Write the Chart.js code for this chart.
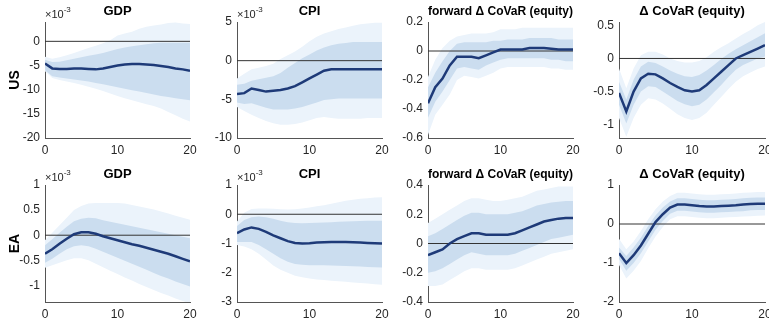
<!DOCTYPE html>
<html lang="en">
<head>
    <meta charset="UTF-8">
    <title>Impulse responses: US and EA</title>
    <script src="https://cdn.jsdelivr.net/npm/chart.js"></script>
    <style>
        body {
            margin: 0;
            padding: 0;
            background: #fff;
            width: 769px;
            height: 324px;
            position: relative;
            overflow: hidden;
        }
        .panel {
            position: absolute;
        }
    </style>
</head>
<body>
    <div id="grid"></div>
    <script>
        // horizontes (eje x)
        const horizons = [0,1,2,3,4,5,6,7,8,9,10,11,12,13,14,15,16,17,18,19,20];

        const panelTitles = ['GDP', 'CPI', 'forward \u0394 CoVaR (equity)', '\u0394 CoVaR (equity)'];
        const rowLabels = ['US', 'EA'];

        // US GDP (x10^-3)
        const usGdpMed     = [-4.6,-5.6,-5.7,-5.7,-5.6,-5.6,-5.7,-5.8,-5.6,-5.3,-5.0,-4.8,-4.7,-4.7,-4.8,-4.9,-5.1,-5.3,-5.6,-5.8,-6.1];
        const usGdpInnerHi = [-3.8,-4.3,-4.2,-3.9,-3.6,-3.3,-3.0,-2.7,-2.4,-2.0,-1.6,-1.3,-1.0,-0.8,-0.6,-0.4,-0.3,-0.3,-0.3,-0.3,-0.3];
        const usGdpInnerLo = [-6.0,-7.2,-7.5,-7.7,-7.9,-8.1,-8.3,-8.6,-8.9,-9.2,-9.5,-9.8,-10.1,-10.4,-10.7,-11.0,-11.3,-11.5,-11.8,-12.0,-12.2];
        const usGdpOuterHi = [-3.2,-3.6,-3.3,-2.9,-2.4,-1.9,-1.4,-0.9,-0.4,0.2,1.2,1.6,2.0,2.6,3.0,3.3,3.5,3.8,3.9,3.7,3.6];
        const usGdpOuterLo = [-6.2,-7.6,-8.0,-8.3,-8.6,-9.0,-9.4,-9.8,-10.3,-10.8,-11.3,-11.8,-12.2,-12.6,-13.0,-13.4,-13.9,-14.6,-15.3,-16.0,-16.6];

        // US CPI (x10^-3)
        const usCpiMed     = [-4.3,-4.2,-3.6,-3.8,-4.0,-3.9,-3.8,-3.6,-3.3,-2.8,-2.3,-1.8,-1.3,-1.1,-1.1,-1.1,-1.1,-1.1,-1.1,-1.1,-1.1];
        const usCpiInnerHi = [-3.1,-3.0,-2.6,-2.4,-2.2,-2.0,-1.6,-0.9,-0.3,0.3,0.8,1.3,1.7,2.0,2.2,2.3,2.4,2.4,2.4,2.4,2.4];
        const usCpiInnerLo = [-5.4,-5.6,-5.5,-5.8,-6.1,-6.3,-6.3,-6.3,-6.2,-6.0,-5.7,-5.4,-5.1,-5.0,-4.9,-4.9,-4.9,-4.9,-4.9,-4.9,-4.9];
        const usCpiOuterHi = [-2.3,-1.7,-1.1,-0.9,-0.7,-0.4,0.2,0.7,1.2,1.8,2.5,3.1,3.5,3.8,4.1,4.3,4.5,4.7,4.8,4.9,4.9];
        const usCpiOuterLo = [-6.0,-6.5,-7.0,-7.4,-7.8,-8.1,-8.3,-8.3,-8.2,-8.0,-7.7,-7.4,-7.3,-7.4,-7.5,-7.5,-7.5,-7.5,-7.4,-7.4,-7.4];

        // US forward delta CoVaR
        const usFwdMed     = [-0.36,-0.25,-0.19,-0.10,-0.04,-0.04,-0.04,-0.05,-0.03,-0.01,0.01,0.01,0.01,0.01,0.02,0.02,0.02,0.015,0.01,0.01,0.01];
        const usFwdInnerHi = [-0.25,-0.15,-0.07,0.00,0.05,0.06,0.06,0.06,0.06,0.07,0.07,0.08,0.08,0.08,0.09,0.09,0.09,0.09,0.08,0.08,0.08];
        const usFwdInnerLo = [-0.46,-0.35,-0.28,-0.20,-0.12,-0.11,-0.12,-0.13,-0.10,-0.08,-0.06,-0.05,-0.05,-0.05,-0.05,-0.05,-0.05,-0.06,-0.06,-0.07,-0.07];
        const usFwdOuterHi = [-0.18,-0.06,0.02,0.07,0.10,0.11,0.12,0.12,0.12,0.13,0.15,0.15,0.15,0.16,0.16,0.16,0.16,0.16,0.16,0.16,0.16];
        const usFwdOuterLo = [-0.58,-0.44,-0.37,-0.30,-0.20,-0.17,-0.18,-0.19,-0.17,-0.15,-0.12,-0.11,-0.11,-0.11,-0.11,-0.11,-0.11,-0.12,-0.12,-0.13,-0.13];

        // US delta CoVaR
        const usCovMed     = [-0.52,-0.80,-0.50,-0.30,-0.23,-0.24,-0.30,-0.37,-0.43,-0.48,-0.50,-0.48,-0.40,-0.30,-0.20,-0.10,0.00,0.05,0.10,0.15,0.20];
        const usCovInnerHi = [-0.35,-0.62,-0.32,-0.12,-0.05,-0.07,-0.12,-0.18,-0.23,-0.27,-0.28,-0.25,-0.18,-0.10,-0.01,0.07,0.14,0.20,0.26,0.32,0.38];
        const usCovInnerLo = [-0.70,-0.98,-0.70,-0.50,-0.42,-0.43,-0.50,-0.57,-0.64,-0.69,-0.72,-0.70,-0.62,-0.51,-0.40,-0.28,-0.17,-0.10,-0.05,0.00,0.03];
        const usCovOuterHi = [-0.15,-0.45,-0.15,0.05,0.10,0.10,0.06,0.00,-0.04,-0.06,-0.06,-0.04,0.02,0.10,0.17,0.23,0.30,0.37,0.43,0.50,0.55];
        const usCovOuterLo = [-0.90,-1.18,-0.90,-0.70,-0.60,-0.62,-0.68,-0.76,-0.84,-0.90,-0.93,-0.90,-0.82,-0.70,-0.58,-0.46,-0.35,-0.27,-0.21,-0.16,-0.12];

        // EA GDP (x10^-3)
        const eaGdpMed     = [-0.37,-0.28,-0.17,-0.07,0.02,0.06,0.06,0.03,-0.02,-0.06,-0.10,-0.14,-0.18,-0.21,-0.25,-0.29,-0.33,-0.37,-0.42,-0.47,-0.52];
        const eaGdpInnerHi = [-0.20,-0.08,0.05,0.17,0.28,0.33,0.35,0.34,0.30,0.27,0.24,0.21,0.18,0.15,0.12,0.09,0.06,0.03,0.00,-0.03,-0.06];
        const eaGdpInnerLo = [-0.55,-0.47,-0.37,-0.28,-0.22,-0.20,-0.22,-0.27,-0.33,-0.39,-0.45,-0.51,-0.57,-0.63,-0.69,-0.75,-0.81,-0.86,-0.92,-0.97,-1.02];
        const eaGdpOuterHi = [-0.10,0.05,0.20,0.35,0.50,0.58,0.63,0.64,0.64,0.64,0.64,0.63,0.60,0.57,0.54,0.51,0.47,0.43,0.39,0.35,0.31];
        const eaGdpOuterLo = [-0.65,-0.60,-0.55,-0.50,-0.46,-0.46,-0.50,-0.57,-0.64,-0.71,-0.77,-0.84,-0.90,-0.97,-1.03,-1.09,-1.15,-1.20,-1.26,-1.31,-1.36];

        // EA CPI (x10^-3)
        const eaCpiMed     = [-0.65,-0.52,-0.45,-0.50,-0.60,-0.72,-0.82,-0.92,-0.98,-1.00,-0.99,-0.97,-0.96,-0.95,-0.95,-0.95,-0.96,-0.97,-0.98,-0.99,-1.00];
        const eaCpiInnerHi = [-0.40,-0.20,-0.10,-0.08,-0.10,-0.15,-0.22,-0.27,-0.30,-0.31,-0.30,-0.29,-0.28,-0.27,-0.26,-0.25,-0.24,-0.23,-0.22,-0.22,-0.22];
        const eaCpiInnerLo = [-0.95,-0.95,-0.95,-1.05,-1.20,-1.35,-1.50,-1.62,-1.70,-1.73,-1.74,-1.74,-1.74,-1.75,-1.76,-1.77,-1.78,-1.79,-1.80,-1.81,-1.82];
        const eaCpiOuterHi = [-0.25,0.05,0.18,0.20,0.20,0.19,0.17,0.16,0.17,0.20,0.23,0.27,0.31,0.36,0.41,0.46,0.50,0.53,0.55,0.57,0.58];
        const eaCpiOuterLo = [-1.05,-1.10,-1.20,-1.35,-1.55,-1.75,-1.90,-2.00,-2.10,-2.15,-2.20,-2.23,-2.25,-2.27,-2.29,-2.31,-2.33,-2.35,-2.37,-2.39,-2.41];

        // EA forward delta CoVaR
        const eaFwdMed     = [-0.08,-0.06,-0.04,0.00,0.03,0.05,0.07,0.07,0.06,0.06,0.06,0.06,0.07,0.09,0.11,0.13,0.15,0.16,0.17,0.175,0.175];
        const eaFwdInnerHi = [0.05,0.07,0.10,0.13,0.16,0.19,0.21,0.21,0.20,0.20,0.20,0.20,0.21,0.22,0.24,0.26,0.27,0.28,0.285,0.29,0.29];
        const eaFwdInnerLo = [-0.20,-0.19,-0.17,-0.14,-0.11,-0.08,-0.06,-0.07,-0.08,-0.08,-0.08,-0.08,-0.07,-0.05,-0.03,-0.01,0.01,0.03,0.04,0.05,0.06];
        const eaFwdOuterHi = [0.14,0.17,0.20,0.23,0.26,0.29,0.31,0.31,0.30,0.29,0.29,0.30,0.31,0.32,0.34,0.36,0.37,0.38,0.39,0.39,0.39];
        const eaFwdOuterLo = [-0.29,-0.29,-0.28,-0.25,-0.22,-0.19,-0.17,-0.17,-0.18,-0.18,-0.18,-0.18,-0.17,-0.15,-0.13,-0.11,-0.09,-0.07,-0.06,-0.05,-0.04];

        // EA delta CoVaR
        const eaCovMed     = [-0.75,-1.00,-0.80,-0.55,-0.25,0.05,0.25,0.42,0.50,0.50,0.48,0.46,0.45,0.45,0.46,0.47,0.48,0.50,0.51,0.52,0.52];
        const eaCovInnerHi = [-0.60,-0.82,-0.60,-0.35,-0.05,0.22,0.42,0.58,0.66,0.66,0.64,0.62,0.61,0.61,0.62,0.63,0.64,0.66,0.67,0.68,0.68];
        const eaCovInnerLo = [-0.90,-1.20,-1.00,-0.75,-0.45,-0.15,0.08,0.26,0.34,0.34,0.32,0.30,0.29,0.29,0.30,0.31,0.32,0.33,0.35,0.36,0.36];
        const eaCovOuterHi = [-0.38,-0.65,-0.45,-0.18,0.12,0.38,0.58,0.72,0.80,0.80,0.78,0.76,0.75,0.75,0.76,0.77,0.78,0.80,0.81,0.82,0.82];
        const eaCovOuterLo = [-1.05,-1.40,-1.20,-0.95,-0.62,-0.32,-0.08,0.12,0.20,0.20,0.18,0.16,0.15,0.15,0.16,0.17,0.18,0.19,0.20,0.21,0.22];

        // ticks del eje y de cada panel
        const usGdpTicks = [0,-5,-10,-15,-20];
        const usCpiTicks = [5,0,-5,-10];
        const usFwdTicks = [0.2,0,-0.2,-0.4,-0.6];
        const usCovTicks = [0.5,0,-0.5,-1];
        const eaGdpTicks = [1,0.5,0,-0.5,-1];
        const eaCpiTicks = [1,0,-1,-2,-3];
        const eaFwdTicks = [0.4,0.2,0,-0.2,-0.4];
        const eaCovTicks = [1,0,-1,-2];
        const xTicks = [0,10,20];

        const panels = [
            {row:0,col:0,med:usGdpMed,ih:usGdpInnerHi,il:usGdpInnerLo,oh:usGdpOuterHi,ol:usGdpOuterLo,ticks:usGdpTicks,min:-20,max:4,exp:true},
            {row:0,col:1,med:usCpiMed,ih:usCpiInnerHi,il:usCpiInnerLo,oh:usCpiOuterHi,ol:usCpiOuterLo,ticks:usCpiTicks,min:-10,max:5,exp:true},
            {row:0,col:2,med:usFwdMed,ih:usFwdInnerHi,il:usFwdInnerLo,oh:usFwdOuterHi,ol:usFwdOuterLo,ticks:usFwdTicks,min:-0.6,max:0.2,exp:false},
            {row:0,col:3,med:usCovMed,ih:usCovInnerHi,il:usCovInnerLo,oh:usCovOuterHi,ol:usCovOuterLo,ticks:usCovTicks,min:-1.2,max:0.55,exp:false},
            {row:1,col:0,med:eaGdpMed,ih:eaGdpInnerHi,il:eaGdpInnerLo,oh:eaGdpOuterHi,ol:eaGdpOuterLo,ticks:eaGdpTicks,min:-1.33,max:1,exp:true},
            {row:1,col:1,med:eaCpiMed,ih:eaCpiInnerHi,il:eaCpiInnerLo,oh:eaCpiOuterHi,ol:eaCpiOuterLo,ticks:eaCpiTicks,min:-3,max:1,exp:true},
            {row:1,col:2,med:eaFwdMed,ih:eaFwdInnerHi,il:eaFwdInnerLo,oh:eaFwdOuterHi,ol:eaFwdOuterLo,ticks:eaFwdTicks,min:-0.4,max:0.4,exp:false},
            {row:1,col:3,med:eaCovMed,ih:eaCovInnerHi,il:eaCovInnerLo,oh:eaCovOuterHi,ol:eaCovOuterLo,ticks:eaCovTicks,min:-2,max:1,exp:false}
        ];

        // geometria (area de trazado en px)
        const colLeft = [45, 237, 428, 619];
        const colWidth = [145, 145, 145, 146];
        const rowTop = [22, 185];
        const rowHeight = [116, 117];
        const titleH = 22, xAxisH = 24;

        const fontFam = "'Liberation Sans', Arial, Helvetica, sans-serif";
        const lineColor = '#1e3a78';
        const innerColor = '#cbddef';
        const outerColor = '#ebf3fb';
        const axisColor = '#555';
        const textColor = '#262626';

        // etiqueta x10^-3
        const exponentPlugin = {
            id: 'exponent',
            afterDraw(chart, args, opts) {
                if (!opts.show) return;
                const ctx = chart.ctx;
                const a = chart.chartArea;
                ctx.save();
                ctx.fillStyle = textColor;
                ctx.textBaseline = 'alphabetic';
                ctx.font = '11px ' + fontFam;
                ctx.fillText('\u00d710', a.left, a.top - 4);
                const w = ctx.measureText('\u00d710').width;
                ctx.font = '8px ' + fontFam;
                ctx.fillText('-3', a.left + w, a.top - 10);
                ctx.restore();
            }
        };

        const grid = document.getElementById('grid');

        panels.forEach(p => {
            const axW = p.col === 0 ? 45 : 40;
            const padR = p.col === 3 ? 769 - colLeft[3] - colWidth[3] : 8;
            const div = document.createElement('div');
            div.className = 'panel';
            div.style.left = (colLeft[p.col] - axW) + 'px';
            div.style.top = (rowTop[p.row] - titleH) + 'px';
            div.style.width = (axW + colWidth[p.col] + padR) + 'px';
            div.style.height = (titleH + rowHeight[p.row] + xAxisH) + 'px';
            const canvas = document.createElement('canvas');
            div.appendChild(canvas);
            grid.appendChild(div);

            new Chart(canvas.getContext('2d'), {
                type: 'line',
                data: {
                    labels: horizons,
                    datasets: [
                        { data: p.med, borderColor: lineColor, borderWidth: 2.5, pointRadius: 0, fill: false },
                        { data: [{x:0,y:0},{x:20,y:0}], borderColor: '#333', borderWidth: 1, pointRadius: 0, fill: false },
                        { data: p.ih, borderWidth: 0, pointRadius: 0, backgroundColor: innerColor, fill: 3 },
                        { data: p.il, borderWidth: 0, pointRadius: 0, fill: false },
                        { data: p.oh, borderWidth: 0, pointRadius: 0, backgroundColor: outerColor, fill: 5 },
                        { data: p.ol, borderWidth: 0, pointRadius: 0, fill: false }
                    ]
                },
                options: {
                    responsive: true,
                    maintainAspectRatio: false,
                    animation: false,
                    layout: { padding: { left: 0, right: padR, top: 0, bottom: 0 } },
                    plugins: {
                        legend: { display: false },
                        tooltip: { enabled: false },
                        title: {
                            display: true,
                            text: panelTitles[p.col],
                            fullSize: false,
                            color: '#000',
                            font: { family: fontFam, size: 13, weight: 'bold', lineHeight: 1.2 },
                            padding: { top: 3.5, bottom: 2.9 }
                        },
                        exponent: { show: p.exp }
                    },
                    scales: {
                        x: {
                            type: 'linear',
                            min: 0,
                            max: 20,
                            grid: { drawOnChartArea: false, drawTicks: false },
                            border: { display: true, color: axisColor, width: 1 },
                            afterBuildTicks: s => { s.ticks = xTicks.map(v => ({ value: v })); },
                            afterFit: s => { s.height = xAxisH; s.paddingLeft = 0; s.paddingRight = 0; },
                            ticks: { color: textColor, font: { family: fontFam, size: 12 }, padding: 5, maxRotation: 0 }
                        },
                        y: {
                            min: p.min,
                            max: p.max,
                            grid: { drawOnChartArea: false, drawTicks: false },
                            border: { display: true, color: axisColor, width: 1 },
                            afterBuildTicks: s => { s.ticks = p.ticks.map(v => ({ value: v })); },
                            afterFit: s => { s.width = axW; s.paddingTop = 0; s.paddingBottom = 0; },
                            ticks: {
                                color: textColor,
                                font: { family: fontFam, size: 12 },
                                padding: 5,
                                callback: v => String(Number(v.toFixed(2)))
                            },
                            title: {
                                display: p.col === 0,
                                text: rowLabels[p.row],
                                color: '#000',
                                font: { family: fontFam, size: 14, weight: 'bold' },
                                padding: { top: 7, bottom: 0 }
                            }
                        }
                    }
                },
                plugins: [exponentPlugin]
            });
        });
    </script>
</body>
</html>
